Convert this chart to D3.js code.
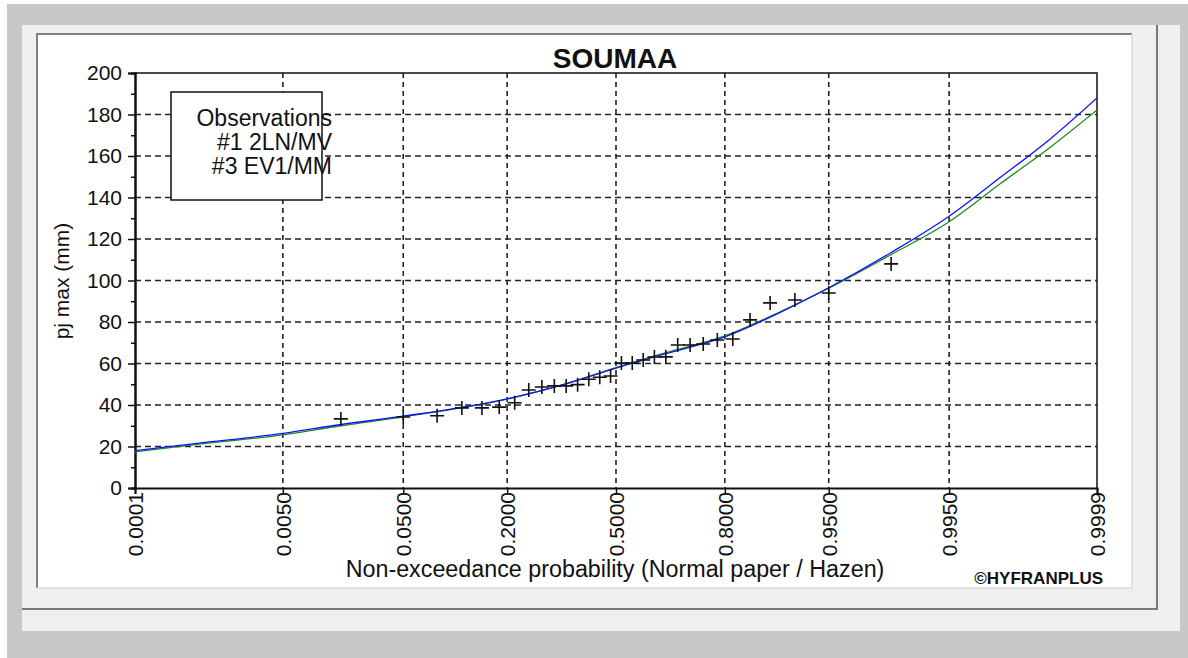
<!DOCTYPE html>
<html>
<head>
<meta charset="utf-8">
<script src="https://cdn.jsdelivr.net/npm/d3@7"></script>
<style>
body{margin:0;background:#fff;}
svg{display:block;font-family:"Liberation Sans",Arial,sans-serif;}
</style>
</head>
<body>
<svg id="chart" width="1188" height="658" viewBox="0 0 1188 658"></svg>
<script>
// station + probability axis
const stationName = "SOUMAA"
const probTicks = [0.0001, 0.005, 0.05, 0.2, 0.5, 0.8, 0.95, 0.995, 0.9999]
const probLabels = ["0.0001", "0.0050", "0.0500", "0.2000", "0.5000", "0.8000", "0.9500", "0.9950", "0.9999"]
const yTicks = [0, 20, 40, 60, 80, 100, 120, 140, 160, 180, 200]
const yMinorTicks = [10, 30, 50, 70, 90, 110, 130, 150, 170, 190]
const legendLines = ["Observations", "#1 2LN/MV", "#3 EV1/MM"]

// observations (Hazen plotting positions)
const obsProb = [0.0167, 0.05, 0.0833, 0.1167, 0.15, 0.1833, 0.2167, 0.25, 0.2833, 0.3167,
    0.35, 0.3833, 0.4167, 0.45, 0.4833, 0.5167, 0.55, 0.5833, 0.6167, 0.65,
    0.6833, 0.7167, 0.75, 0.7833, 0.8167, 0.85, 0.8833, 0.9167, 0.95, 0.9833]
const obsValue = [33.3, 34.2, 34.8, 38.6, 38.6, 39.0, 41.1, 47.2, 48.7, 49.2,
    49.2, 49.8, 52.4, 53.4, 54.0, 60.2, 60.2, 61.7, 63.1, 63.2,
    68.9, 68.9, 69.4, 71.3, 71.8, 81.0, 89.2, 90.6, 94.0, 108.0]

// fitted curves
const curveProb = [0.0001, 0.0006, 0.005, 0.0167, 0.05, 0.2, 0.35, 0.5, 0.65, 0.8, 0.9, 0.95, 0.9833, 0.995, 0.9985, 0.9996, 0.9999]
const ln2Value = [18.0, 21.5, 26.3, 30.6, 34.6, 43.0, 50.2, 57.8, 64.8, 72.8, 85.0, 96.5, 113.5, 131.0, 149.5, 168.0, 188.0]
const ev1Value = [17.4, 21.0, 25.6, 30.0, 34.3, 42.8, 50.3, 58.0, 65.2, 73.3, 85.3, 96.3, 112.5, 128.3, 146.5, 164.0, 182.2]

// inverse normal cdf (Acklam)
function probit(p)
{
    const a = [-39.69683028665376, 220.9460984245205, -275.9285104469687, 138.3577518672690, -30.66479806614716, 2.506628277459239]
    const b = [-54.47609879822406, 161.5858368580409, -155.6989798598866, 66.80131188771972, -13.28068155211769]
    const c = [-0.007784894002430293, -0.3223964580411365, -2.400758277161838, -2.549732539343734, 4.374664141464968, 2.938163982698783]
    const d = [0.007784695709041462, 0.3224671290700398, 2.445134137142996, 3.754408661907416]
    const pl = 0.02425
    let q, r
    if (p < pl) {
        q = Math.sqrt(-2 * Math.log(p))
        return (((((c[0]*q+c[1])*q+c[2])*q+c[3])*q+c[4])*q+c[5]) / ((((d[0]*q+d[1])*q+d[2])*q+d[3])*q+1)
    }
    if (p > 1 - pl) {
        q = Math.sqrt(-2 * Math.log(1 - p))
        return -(((((c[0]*q+c[1])*q+c[2])*q+c[3])*q+c[4])*q+c[5]) / ((((d[0]*q+d[1])*q+d[2])*q+d[3])*q+1)
    }
    q = p - 0.5
    r = q * q
    return (((((a[0]*r+a[1])*r+a[2])*r+a[3])*r+a[4])*r+a[5])*q / (((((b[0]*r+b[1])*r+b[2])*r+b[3])*r+b[4])*r+1)
}

const svg = d3.select("#chart")
const plotL = 135, plotR = 1097, plotT = 73, plotB = 488

// window frame
svg.append("rect").attr("x", 7).attr("y", 4).attr("width", 1181).attr("height", 654).attr("fill", "#c8c8c8")
svg.append("rect").attr("x", 22).attr("y", 25).attr("width", 1158).attr("height", 606).attr("fill", "#efefef")
svg.append("line").attr("x1", 22).attr("x2", 1158).attr("y1", 609).attr("y2", 609).attr("stroke", "#7a7a7a").attr("stroke-width", 2)
svg.append("line").attr("x1", 1157).attr("x2", 1157).attr("y1", 25).attr("y2", 609).attr("stroke", "#7a7a7a").attr("stroke-width", 2)
svg.append("rect").attr("x", 37).attr("y", 34).attr("width", 1095).attr("height", 554).attr("fill", "#fff")
svg.append("path").attr("d", "M37,588V34H1132").attr("fill", "none").attr("stroke", "#808080").attr("stroke-width", 2)
svg.append("path").attr("d", "M37,588H1132V34").attr("fill", "none").attr("stroke", "#dcdcdc").attr("stroke-width", 1.5)

const x = d3.scaleLinear()
    .domain([probit(0.0001), probit(0.9999)])
    .range([plotL, plotR])
const y = d3.scaleLinear()
    .domain([0, 200])
    .range([plotB, plotT])

const plot = svg.append("g")

// grid
plot.append("g")
    .selectAll("line")
    .data(yTicks.filter(d => d > 0 && d < 200))
    .enter()
    .append("line")
    .attr("x1", plotL).attr("x2", plotR)
    .attr("y1", d => y(d)).attr("y2", d => y(d))
    .attr("stroke", "#222").attr("stroke-width", 1.6).attr("stroke-dasharray", "6,4")
plot.append("g")
    .selectAll("line")
    .data(probTicks.slice(1, -1))
    .enter()
    .append("line")
    .attr("x1", d => x(probit(d))).attr("x2", d => x(probit(d)))
    .attr("y1", plotT).attr("y2", plotB)
    .attr("stroke", "#222").attr("stroke-width", 1.6).attr("stroke-dasharray", "5,4")

// box
plot.append("path")
    .attr("d", `M${plotL},${plotT}H${plotR}V${plotB}`)
    .attr("fill", "none").attr("stroke", "#111").attr("stroke-width", 1.5)

// axes
const yAxis = plot.append("g")
    .attr("transform", `translate(${plotL},0)`)
    .call(d3.axisLeft(y).tickValues(yTicks).tickSize(7).tickPadding(6).tickFormat(d3.format("d")))
yAxis.append("g").call(d3.axisLeft(y).tickValues(yMinorTicks).tickSize(4).tickFormat(""))
yAxis.selectAll(".domain").attr("stroke", "#111").attr("stroke-width", 2)
yAxis.selectAll("line").attr("stroke", "#111").attr("stroke-width", 1.5)
yAxis.selectAll("text").attr("font-size", 21).attr("fill", "#111").attr("font-family", "Liberation Sans, Arial, sans-serif")

const xAxis = plot.append("g")
    .attr("transform", `translate(0,${plotB})`)
    .call(d3.axisBottom(x).tickValues(probTicks.map(probit)).tickSize(6).tickFormat((d, i) => probLabels[i]))
xAxis.selectAll(".domain").attr("stroke", "#111").attr("stroke-width", 2)
xAxis.selectAll("line").attr("stroke", "#111").attr("stroke-width", 1.5)
xAxis.selectAll("text")
    .attr("font-size", 21).attr("fill", "#111").attr("font-family", "Liberation Sans, Arial, sans-serif")
    .attr("text-anchor", "end")
    .attr("transform", "rotate(-90)")
    .attr("x", -4).attr("y", 0).attr("dy", "0.35em")

// curves
svg.append("clipPath").attr("id", "clip")
    .append("rect").attr("x", plotL).attr("y", plotT).attr("width", plotR - plotL).attr("height", plotB - plotT)
const line = d3.line()
    .x(d => x(probit(d.p)))
    .y(d => y(d.v))
    .curve(d3.curveMonotoneX)
const curves = plot.append("g").attr("clip-path", "url(#clip)")
curves.append("path")
    .datum(curveProb.map((p, i) => ({p: p, v: ev1Value[i]})))
    .attr("d", line).attr("fill", "none").attr("stroke", "#1e8c1e").attr("stroke-width", 1.3)
curves.append("path")
    .datum(curveProb.map((p, i) => ({p: p, v: ln2Value[i]})))
    .attr("d", line).attr("fill", "none").attr("stroke", "#1010ff").attr("stroke-width", 1.3)

// observations
plot.append("g")
    .selectAll("path")
    .data(obsProb.map((p, i) => ({p: p, v: obsValue[i]})))
    .enter()
    .append("path")
    .attr("transform", d => `translate(${x(probit(d.p))},${y(d.v)})`)
    .attr("d", "M-7,0H7M0,-7V7")
    .attr("stroke", "#111").attr("stroke-width", 1.6)

// legend
plot.append("rect")
    .attr("x", 171).attr("y", 92).attr("width", 151).attr("height", 108)
    .attr("fill", "#fff").attr("stroke", "#111").attr("stroke-width", 1.5)
plot.append("g")
    .selectAll("text")
    .data(legendLines)
    .enter()
    .append("text")
    .attr("x", 332)
    .attr("y", (d, i) => 126 + i * 24)
    .attr("text-anchor", "end")
    .attr("font-size", 23).attr("fill", "#111")
    .text(d => d)

// titles
svg.append("text")
    .attr("x", 615).attr("y", 68)
    .attr("text-anchor", "middle").attr("font-size", 28).attr("font-weight", "bold").attr("fill", "#111")
    .text(stationName)
svg.append("text")
    .attr("x", 615).attr("y", 577)
    .attr("text-anchor", "middle").attr("font-size", 23.3).attr("fill", "#111")
    .text("Non-exceedance probability (Normal paper / Hazen)")
svg.append("text")
    .attr("transform", "translate(69,281) rotate(-90)")
    .attr("text-anchor", "middle").attr("font-size", 21).attr("fill", "#111")
    .text("pj max (mm)")
svg.append("text")
    .attr("x", 1103).attr("y", 584)
    .attr("text-anchor", "end").attr("font-size", 17).attr("font-weight", "bold").attr("fill", "#111")
    .text("©HYFRANPLUS")
</script>
</body>
</html>
